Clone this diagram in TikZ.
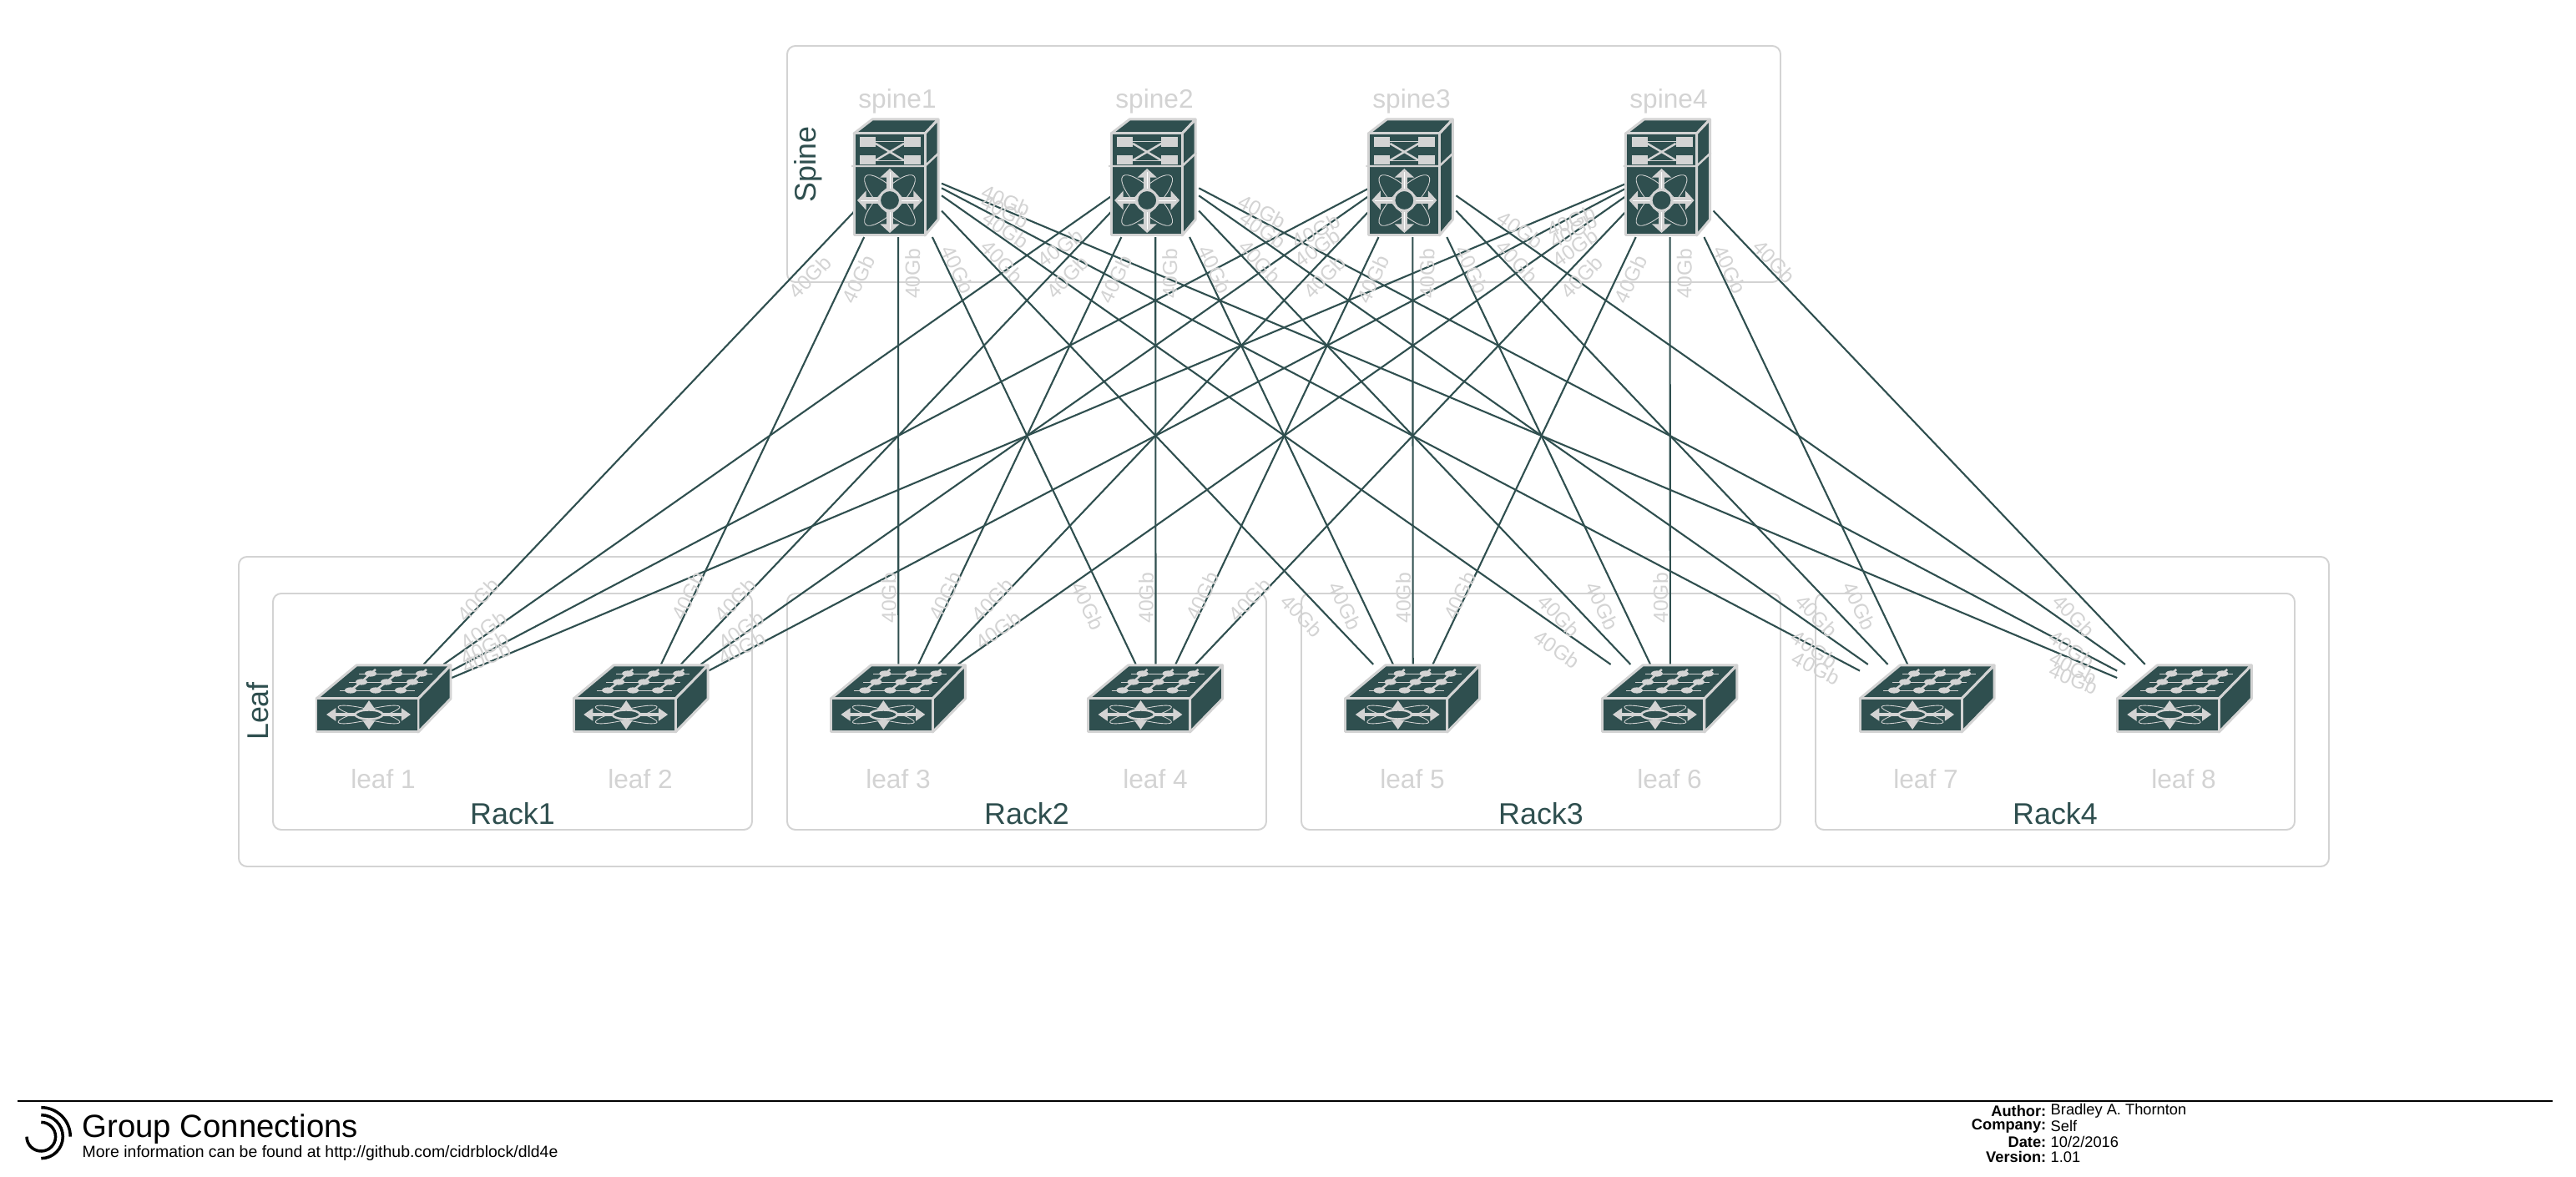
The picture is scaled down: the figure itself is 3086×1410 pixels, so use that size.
\documentclass[tikz,border=0pt]{standalone}
\usepackage{fontspec}
\setmainfont{Liberation Sans}
\usetikzlibrary{arrows.meta}
\definecolor{slatedark}{HTML}{2F4F4F}
\definecolor{greylight}{HTML}{D3D3D3}
\tikzset{
    groupbox/.style={draw=greylight, line width=.55pt, rounded corners=2.8pt},
    groupname/.style={inner sep=0pt, text=slatedark, font=\fontsize{10.2}{12}\selectfont},
    devicename/.style={inner sep=0pt, text=greylight, font=\fontsize{9}{10}\selectfont},
    spinebox/.style={rectangle, inner sep=0pt, outer sep=0pt, minimum width=1.04cm, minimum height=1.72cm},
    leafbox/.style={rectangle, inner sep=0pt, outer sep=0pt, minimum width=1.62cm, minimum height=1cm},
    uplink/.style={draw=slatedark, line width=.6pt},
    gb/.style={sloped, inner sep=0pt, text=greylight, font=\fontsize{7}{8}\selectfont},
    spinegbl/.style={gb, below=1.7pt},
    spinegbr/.style={gb, above=.3pt},
    leafgbl/.style={gb, above=-1.1pt},
    leafgbr/.style={gb, below=3.4pt},
    leafgbv/.style={gb, above=.6pt},
    iconface/.style={fill=slatedark, draw=greylight, line width=.85pt, line join=round},
    iconthin/.style={draw=greylight, line width=.25pt},
    iconbar/.style={draw=greylight, line width=.7pt},
    iconport/.style={fill=greylight},
    iconarrow/.style={draw=greylight, line width=2.2pt, {Triangle[width=6.4pt,length=3pt]}-{Triangle[width=6.4pt,length=3pt]}},
    smallarrow/.style={draw=greylight, line width=1.1pt, {Triangle[width=4.2pt,length=3.2pt]}-{Triangle[width=4.2pt,length=3.2pt]}},
    spineicon/.pic={
        \draw[iconface] (-53,-38) -- (-31,-55) -- (48,-55) -- (32,-38) -- cycle;
        \draw[iconface] (32,-38) -- (48,-55) -- (48,65) -- (32,84) -- cycle;
        \draw[iconface] (-53,-38) rectangle (32,84);
        \draw[iconbar] (-56,1) -- (32,1) -- (49,-15);
        \draw[iconthin] (-27,-29) -- (7,-29);
        \draw[iconthin] (-27,-6) -- (7,-6);
        \draw[iconbar] (-27,-26) -- (7,-6);
        \draw[iconbar] (-27,-6) -- (7,-26);
        \fill[iconport] (-46,-34) rectangle (-27,-22);
        \fill[iconport] (7,-34) rectangle (27,-22);
        \fill[iconport] (-46,-12) rectangle (-27,-1);
        \fill[iconport] (7,-12) rectangle (27,-1);
        \draw[iconthin, rotate around={45:(-10,42)}] (-10,42) ellipse [x radius=41, y radius=13];
        \draw[iconthin, rotate around={-45:(-10,42)}] (-10,42) ellipse [x radius=41, y radius=13];
        \draw[iconarrow] (-49,42) -- (29,42);
        \draw[iconarrow] (-10,4) -- (-10,81);
        \draw[white, line width=.2pt] (-45,42) -- (25,42);
        \draw[white, line width=.2pt] (-10,8) -- (-10,77);
        \draw[iconface] (-10,42) circle [radius=12.5];
    },
    leaficon/.pic={
        \draw[iconface] (-81,-9) -- (-33,-49) -- (80,-49) -- (41,-9) -- cycle;
        \draw[iconface] (41,-9) -- (80,-49) -- (80,-9) -- (41,31) -- cycle;
        \draw[iconface] (-81,-9) rectangle (41,31);
        \draw[iconthin] (-30,-39) -- (58,-39);
        \draw[iconthin] (-42,-29) -- (47,-29);
        \draw[iconthin] (-53,-19) -- (37,-19);
        \draw[iconbar] (-40,-19) -- (-27,-29) -- (-16,-39) -- (-10,-44);
        \draw[iconbar] (-10,-19) -- (3,-29) -- (15,-39) -- (21,-44);
        \draw[iconbar] (20,-19) -- (34,-29) -- (45,-39) -- (51,-44);
        \fill[iconport] (-40,-19) ellipse [x radius=7, y radius=3.6];
        \fill[iconport] (-27,-29) ellipse [x radius=7, y radius=3.6];
        \fill[iconport] (-16,-39) ellipse [x radius=7, y radius=3.6];
        \fill[iconport] (-10,-19) ellipse [x radius=7, y radius=3.6];
        \fill[iconport] (3,-29) ellipse [x radius=7, y radius=3.6];
        \fill[iconport] (15,-39) ellipse [x radius=7, y radius=3.6];
        \fill[iconport] (20,-19) ellipse [x radius=7, y radius=3.6];
        \fill[iconport] (34,-29) ellipse [x radius=7, y radius=3.6];
        \fill[iconport] (45,-39) ellipse [x radius=7, y radius=3.6];
        \draw[iconthin, rotate around={14:(-18,10)}] (-18,10) ellipse [x radius=38, y radius=6];
        \draw[iconthin, rotate around={-14:(-18,10)}] (-18,10) ellipse [x radius=38, y radius=6];
        \draw[smallarrow] (-69,10) -- (32,10);
        \draw[smallarrow, line width=1.4pt] (-18,-7) -- (-18,28);
        \draw[iconface, line width=.7pt] (-18,10) ellipse [x radius=16.5, y radius=5.5];
    }
}
\begin{document}
\begin{tikzpicture}[x=.01cm, y=-.01cm, node distance=3.08cm]
    \useasboundingbox (0,0) rectangle (3086,1410);

    \draw[groupbox] (943,55) rectangle (2133,338);
    \draw[groupbox] (286,667) rectangle (2790,1038);
    \draw[groupbox] (327,711) rectangle (901,994);
    \draw[groupbox] (943,711) rectangle (1517,994);
    \draw[groupbox] (1559,711) rectangle (2133,994);
    \draw[groupbox] (2175,711) rectangle (2749,994);

    \node (spinename) [groupname, rotate=90] at (968,197) {Spine};
    \node (leafname) [groupname, rotate=90] at (309,852) {Leaf};
    \node (rack1) [groupname] at (614,975) {Rack1};
    \node (rack2) [groupname] at (1230,975) {Rack2};
    \node (rack3) [groupname] at (1846,975) {Rack3};
    \node (rack4) [groupname] at (2462,975) {Rack4};

    \node (spine1) [spinebox] at (1076,198) {};
    \node (spine2) [spinebox, right of=spine1] {};
    \node (spine3) [spinebox, right of=spine2] {};
    \node (spine4) [spinebox, right of=spine3] {};

    \node (leaf1) [leafbox] at (460,846) {};
    \node (leaf2) [leafbox, right of=leaf1] {};
    \node (leaf3) [leafbox, right of=leaf2] {};
    \node (leaf4) [leafbox, right of=leaf3] {};
    \node (leaf5) [leafbox, right of=leaf4] {};
    \node (leaf6) [leafbox, right of=leaf5] {};
    \node (leaf7) [leafbox, right of=leaf6] {};
    \node (leaf8) [leafbox, right of=leaf7] {};

    \node (spine1name) [devicename] at (1075,121) {spine1};
    \node (spine2name) [devicename] at (1383,121) {spine2};
    \node (spine3name) [devicename] at (1691,121) {spine3};
    \node (spine4name) [devicename] at (1999,121) {spine4};

    \node (leaf1name) [devicename] at (459,933) {leaf 1};
    \node (leaf2name) [devicename] at (767,933) {leaf 2};
    \node (leaf3name) [devicename] at (1076,933) {leaf 3};
    \node (leaf4name) [devicename] at (1384,933) {leaf 4};
    \node (leaf5name) [devicename] at (1692,933) {leaf 5};
    \node (leaf6name) [devicename] at (2000,933) {leaf 6};
    \node (leaf7name) [devicename] at (2307,933) {leaf 7};
    \node (leaf8name) [devicename] at (2616,933) {leaf 8};

    \draw[uplink] (spine1) -- (leaf1);
    \draw[uplink] (spine1) -- (leaf2);
    \draw[uplink] (spine1) -- (leaf3);
    \draw[uplink] (spine1) -- (leaf4);
    \draw[uplink] (spine1) -- (leaf5);
    \draw[uplink] (spine1) -- (leaf6);
    \draw[uplink] (spine1) -- (leaf7);
    \draw[uplink] (spine1) -- (leaf8);
    \draw[uplink] (spine2) -- (leaf1);
    \draw[uplink] (spine2) -- (leaf2);
    \draw[uplink] (spine2) -- (leaf3);
    \draw[uplink] (spine2) -- (leaf4);
    \draw[uplink] (spine2) -- (leaf5);
    \draw[uplink] (spine2) -- (leaf6);
    \draw[uplink] (spine2) -- (leaf7);
    \draw[uplink] (spine2) -- (leaf8);
    \draw[uplink] (spine3) -- (leaf1);
    \draw[uplink] (spine3) -- (leaf2);
    \draw[uplink] (spine3) -- (leaf3);
    \draw[uplink] (spine3) -- (leaf4);
    \draw[uplink] (spine3) -- (leaf5);
    \draw[uplink] (spine3) -- (leaf6);
    \draw[uplink] (spine3) -- (leaf7);
    \draw[uplink] (spine3) -- (leaf8);
    \draw[uplink] (spine4) -- (leaf1);
    \draw[uplink] (spine4) -- (leaf2);
    \draw[uplink] (spine4) -- (leaf3);
    \draw[uplink] (spine4) -- (leaf4);
    \draw[uplink] (spine4) -- (leaf5);
    \draw[uplink] (spine4) -- (leaf6);
    \draw[uplink] (spine4) -- (leaf7);
    \draw[uplink] (spine4) -- (leaf8);

    \path (spine1.center) -- node[spinegbl, pos=.19] {40Gb} node[leafgbl, pos=.81] {40Gb} (leaf1.center);
    \path (spine1.center) -- node[spinegbl, pos=.2] {40Gb} node[leafgbl, pos=.8] {40Gb} (leaf2.center);
    \path ([xshift=.5pt]spine1.center) -- node[spinegbl, pos=.2] {40Gb} node[leafgbv, pos=.8] {40Gb} (leaf3.center);
    \path (spine1.center) -- node[spinegbr, pos=.2] {40Gb} node[leafgbr, pos=.8] {40Gb} (leaf4.center);
    \path (spine1.center) -- node[spinegbr, pos=.19] {40Gb} node[leafgbr, pos=.81] {40Gb} (leaf5.center);
    \path (spine1.center) -- node[spinegbr, pos=.133] {40Gb} node[leafgbr, pos=.867] {40Gb} (leaf6.center);
    \path (spine1.center) -- node[spinegbr, pos=.1] {40Gb} node[leafgbr, pos=.9] {40Gb} (leaf7.center);
    \path (spine1.center) -- node[spinegbr, pos=.081] {40Gb} node[leafgbr, pos=.919] {40Gb} (leaf8.center);

    \path (spine2.center) -- node[spinegbl, pos=.133] {40Gb} node[leafgbl, pos=.867] {40Gb} (leaf1.center);
    \path (spine2.center) -- node[spinegbl, pos=.19] {40Gb} node[leafgbl, pos=.81] {40Gb} (leaf2.center);
    \path (spine2.center) -- node[spinegbl, pos=.2] {40Gb} node[leafgbl, pos=.8] {40Gb} (leaf3.center);
    \path ([xshift=.5pt]spine2.center) -- node[spinegbl, pos=.2] {40Gb} node[leafgbv, pos=.8] {40Gb} (leaf4.center);
    \path (spine2.center) -- node[spinegbr, pos=.2] {40Gb} node[leafgbr, pos=.8] {40Gb} (leaf5.center);
    \path (spine2.center) -- node[spinegbr, pos=.19] {40Gb} node[leafgbr, pos=.81] {40Gb} (leaf6.center);
    \path (spine2.center) -- node[spinegbr, pos=.133] {40Gb} node[leafgbr, pos=.867] {40Gb} (leaf7.center);
    \path (spine2.center) -- node[spinegbr, pos=.1] {40Gb} node[leafgbr, pos=.9] {40Gb} (leaf8.center);

    \path (spine3.center) -- node[spinegbl, pos=.1] {40Gb} node[leafgbl, pos=.9] {40Gb} (leaf1.center);
    \path (spine3.center) -- node[spinegbl, pos=.133] {40Gb} node[leafgbl, pos=.867] {40Gb} (leaf2.center);
    \path (spine3.center) -- node[spinegbl, pos=.19] {40Gb} node[leafgbl, pos=.81] {40Gb} (leaf3.center);
    \path (spine3.center) -- node[spinegbl, pos=.2] {40Gb} node[leafgbl, pos=.8] {40Gb} (leaf4.center);
    \path ([xshift=.5pt]spine3.center) -- node[spinegbl, pos=.2] {40Gb} node[leafgbv, pos=.8] {40Gb} (leaf5.center);
    \path (spine3.center) -- node[spinegbr, pos=.2] {40Gb} node[leafgbr, pos=.8] {40Gb} (leaf6.center);
    \path (spine3.center) -- node[spinegbr, pos=.19] {40Gb} node[leafgbr, pos=.81] {40Gb} (leaf7.center);
    \path (spine3.center) -- node[spinegbr, pos=.133] {40Gb} node[leafgbr, pos=.867] {40Gb} (leaf8.center);

    \path (spine4.center) -- node[spinegbl, pos=.081] {40Gb} node[leafgbl, pos=.919] {40Gb} (leaf1.center);
    \path (spine4.center) -- node[spinegbl, pos=.1] {40Gb} node[leafgbl, pos=.9] {40Gb} (leaf2.center);
    \path (spine4.center) -- node[spinegbl, pos=.133] {40Gb} node[leafgbl, pos=.867] {40Gb} (leaf3.center);
    \path (spine4.center) -- node[spinegbl, pos=.19] {40Gb} node[leafgbl, pos=.81] {40Gb} (leaf4.center);
    \path (spine4.center) -- node[spinegbl, pos=.2] {40Gb} node[leafgbl, pos=.8] {40Gb} (leaf5.center);
    \path ([xshift=.5pt]spine4.center) -- node[spinegbl, pos=.2] {40Gb} node[leafgbv, pos=.8] {40Gb} (leaf6.center);
    \path (spine4.center) -- node[spinegbr, pos=.2] {40Gb} node[leafgbr, pos=.8] {40Gb} (leaf7.center);
    \path (spine4.center) -- node[spinegbr, pos=.19] {40Gb} node[leafgbr, pos=.81] {40Gb} (leaf8.center);

    \pic at (spine1) {spineicon};
    \pic at (spine2) {spineicon};
    \pic at (spine3) {spineicon};
    \pic at (spine4) {spineicon};

    \pic at (leaf1) {leaficon};
    \pic at (leaf2) {leaficon};
    \pic at (leaf3) {leaficon};
    \pic at (leaf4) {leaficon};
    \pic at (leaf5) {leaficon};
    \pic at (leaf6) {leaficon};
    \pic at (leaf7) {leaficon};
    \pic at (leaf8) {leaficon};

    \draw[black, line width=.6pt] (21,1319) -- (3058,1319);
    \draw[black, line width=1pt] (49.3,1344.4) arc [start angle=-90, end angle=180, radius=17.3];
    \draw[black, line width=1pt] (49.3,1335.7) arc [start angle=-90, end angle=90, radius=26];
    \draw[black, line width=1pt] (49.3,1326.7) arc [start angle=-90, end angle=0, radius=35];

    \node (title) [anchor=west, inner sep=0pt, font=\fontsize{10.9}{12}\selectfont] at (98,1353) {Group Connections};
    \node (subtitle) [anchor=west, inner sep=0pt, font=\fontsize{5.53}{6}\selectfont] at (98,1381) {More information can be found at http://github.com/cidrblock/dld4e};

    \node (authorkey) [anchor=east, inner sep=0pt, font=\bfseries\fontsize{5.2}{6}\selectfont] at (2452,1331) {Author:};
    \node (companykey) [anchor=east, inner sep=0pt, font=\bfseries\fontsize{5.2}{6}\selectfont] at (2452,1349) {Company:};
    \node (datekey) [anchor=east, inner sep=0pt, font=\bfseries\fontsize{5.2}{6}\selectfont] at (2452,1368) {Date:};
    \node (versionkey) [anchor=east, inner sep=0pt, font=\bfseries\fontsize{5.2}{6}\selectfont] at (2452,1386) {Version:};
    \node (authorval) [anchor=west, inner sep=0pt, font=\fontsize{5.2}{6}\selectfont] at (2456,1331) {Bradley A. Thornton};
    \node (companyval) [anchor=west, inner sep=0pt, font=\fontsize{5.2}{6}\selectfont] at (2456,1349) {Self};
    \node (dateval) [anchor=west, inner sep=0pt, font=\fontsize{5.2}{6}\selectfont] at (2456,1368) {10/2/2016};
    \node (versionval) [anchor=west, inner sep=0pt, font=\fontsize{5.2}{6}\selectfont] at (2456,1386) {1.01};
\end{tikzpicture}
\end{document}
